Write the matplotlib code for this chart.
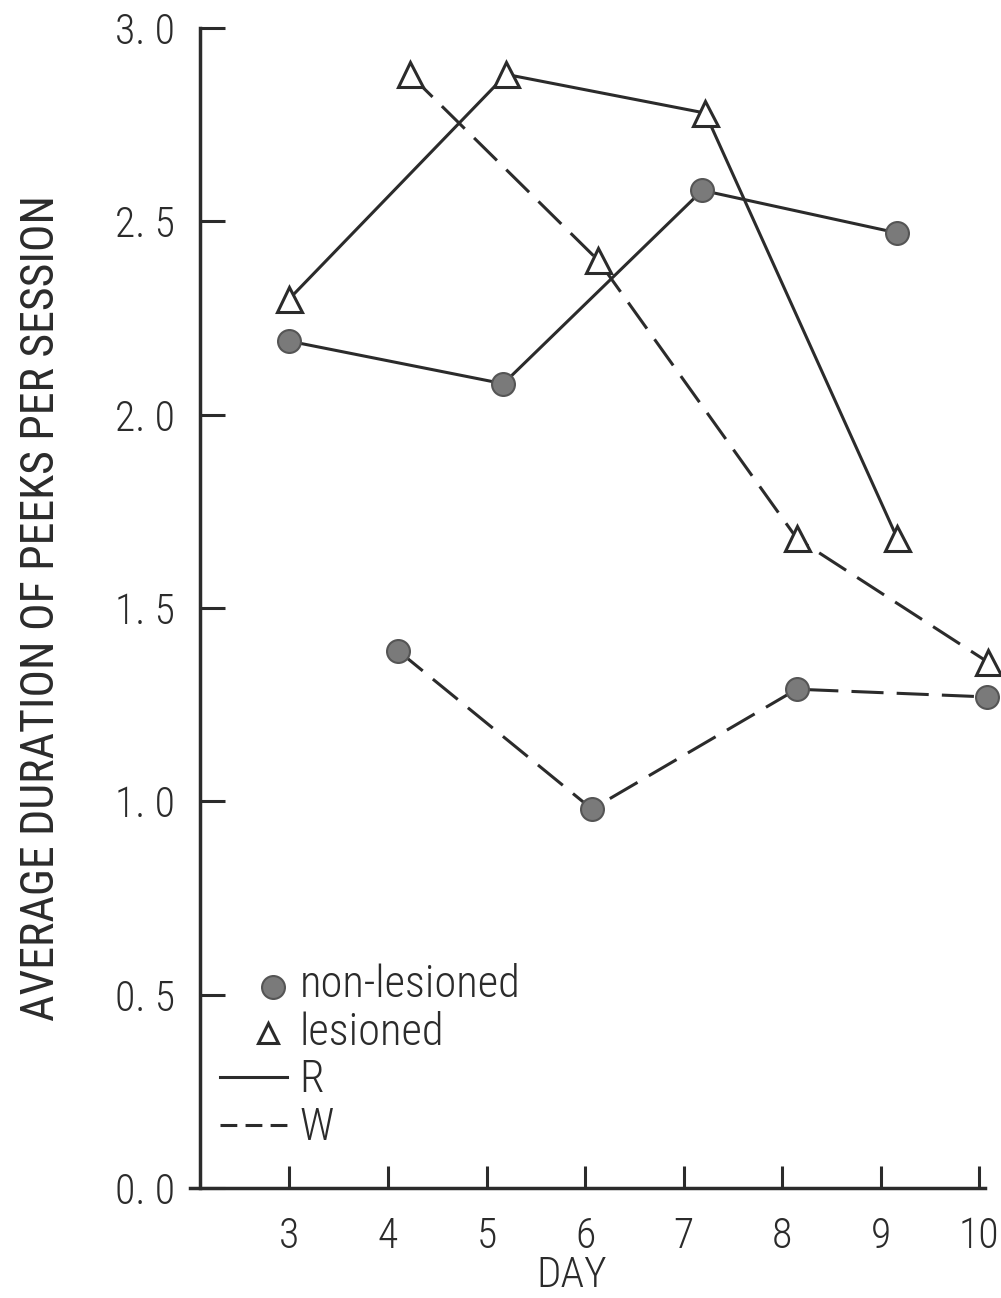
import matplotlib
matplotlib.use("Agg")
import matplotlib.pyplot as plt

plt.rcParams['font.family'] = ['Roboto Condensed', 'DejaVu Sans']
plt.rcParams['font.stretch'] = 'condensed'
plt.rcParams['font.weight'] = 'light'

# data (day, average duration)
nonles_R_day = [3.0, 5.17, 7.19, 9.17]
nonles_R_val = [2.19, 2.08, 2.58, 2.47]

les_R_day = [3.0, 5.2, 7.22, 9.17]
les_R_val = [2.30, 2.88, 2.78, 1.68]

les_W_day = [4.22, 6.13, 8.15, 10.09]
les_W_val = [2.88, 2.40, 1.68, 1.36]

nonles_W_day = [4.1, 6.07, 8.15, 10.08]
nonles_W_val = [1.39, 0.98, 1.29, 1.27]

day_ticks = [3, 4, 5, 6, 7, 8, 9, 10]
val_ticks = [0.0, 0.5, 1.0, 1.5, 2.0, 2.5, 3.0]
val_labels = ['0. 0', '0. 5', '1. 0', '1. 5', '2. 0', '2. 5', '3. 0']

ink = '#2b2b2b'
dot_face = '#7a7a7a'
dot_edge = '#555555'
lw = 2.2
dash = (0, (10.5, 4.3))

fig = plt.figure(figsize=(10.01, 12.98), dpi=100)
ax = fig.add_axes([190 / 1001, 110 / 1298, 795 / 1001, 1160 / 1298])

circle_style = dict(marker='o', markersize=16.5, markerfacecolor=dot_face,
                    markeredgecolor=dot_edge, markeredgewidth=1.5)
tri_style = dict(marker='^', markersize=18, markerfacecolor='white',
                 markeredgecolor=ink, markeredgewidth=2.2)

ax.plot(nonles_R_day, nonles_R_val, color=ink, lw=lw, clip_on=False, **circle_style)
ax.plot(les_R_day, les_R_val, color=ink, lw=lw, clip_on=False, **tri_style)
ax.plot(les_W_day, les_W_val, color=ink, lw=lw, linestyle=dash, clip_on=False, **tri_style)
ax.plot(nonles_W_day, nonles_W_val, color=ink, lw=lw, linestyle=dash, clip_on=False, **circle_style)

ax.set_xlim(1.99, 10.06)
ax.set_ylim(0, 3.0)

for s in ['top', 'right']:
    ax.spines[s].set_visible(False)
ax.spines['left'].set_position(('data', 2.09))
for s in ['left', 'bottom']:
    ax.spines[s].set_linewidth(2.5)
    ax.spines[s].set_color(ink)

ax.set_xticks(day_ticks)
ax.set_xticklabels([str(d) for d in day_ticks])
ax.set_yticks(val_ticks)
ax.set_yticklabels(val_labels)
ax.tick_params(axis='y', direction='in', length=18, width=2.2, color=ink,
               pad=18, labelsize=30, labelcolor=ink)
ax.tick_params(axis='x', direction='in', length=16, width=2.2, color=ink,
               pad=20, labelsize=30, labelcolor=ink)

ax.set_ylabel('AVERAGE DURATION OF PEEKS PER SESSION', fontsize=33, color=ink)
ax.yaxis.set_label_coords(-0.16, 0.5)
ax.set_xlabel('DAY', fontsize=31, color=ink, va='top', fontweight='light')
ax.xaxis.set_label_coords(0.48, -0.058)

# hand-drawn style key in the lower left
ax.plot([0.104], [0.173], transform=ax.transAxes, clip_on=False, **circle_style)
ax.plot([0.098], [0.134], transform=ax.transAxes, clip_on=False,
        **dict(tri_style, markersize=15))
ax.plot([0.038, 0.122], [0.096, 0.096], transform=ax.transAxes, color=ink, lw=lw)
ax.plot([0.038, 0.122], [0.054, 0.054], transform=ax.transAxes, color=ink, lw=lw,
        linestyle=(0, (5.5, 2.7)))
key_text = ['non-lesioned', 'lesioned', 'R', 'W']
key_y = [0.165, 0.123, 0.083, 0.041]
for t, y in zip(key_text, key_y):
    ax.text(0.138, y, t, transform=ax.transAxes, fontsize=32, color=ink,
            va='baseline', ha='left')

fig.savefig('out.png', dpi=100)
